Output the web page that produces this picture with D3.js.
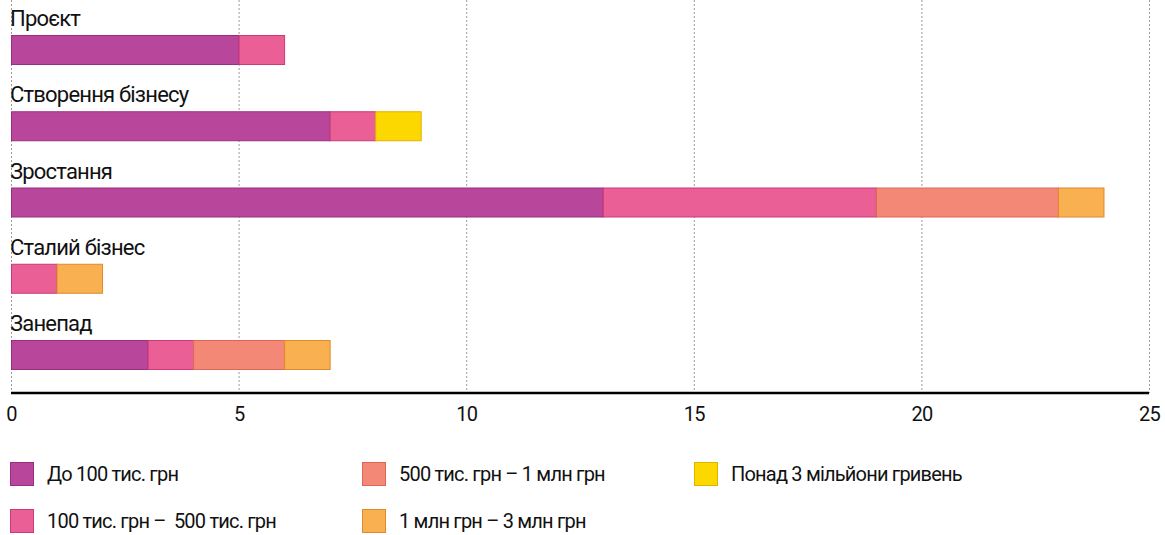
<!DOCTYPE html>
<html>
<head>
<meta charset="utf-8">
<script src="https://cdn.jsdelivr.net/npm/d3@7"></script>
<style>
  html, body { margin: 0; padding: 0; background: #fff; }
  svg { display: block; }
  svg text { font-family: Roboto, "DejaVu Sans", sans-serif; white-space: pre; letter-spacing: -0.8px; }
</style>
</head>
<body>
<svg id="chart" width="1165" height="535"></svg>
<script>
// Business stages and counts per turnover bracket
const stages = ["Проєкт", "Створення бізнесу", "Зростання", "Сталий бізнес", "Занепад"];
const seriesNames = [
  "До 100 тис. грн",
  "100 тис. грн –  500 тис. грн",
  "500 тис. грн – 1 млн грн",
  "1 млн грн – 3 млн грн",
  "Понад 3 мільйони гривень"
];
const upTo100k   = [5, 7, 13, 0, 3];
const from100k   = [1, 1, 6, 1, 1];
const from500k   = [0, 0, 4, 0, 2];
const from1m     = [0, 0, 1, 1, 1];
const over3m     = [0, 1, 0, 0, 0];
const xTicks = [0, 5, 10, 15, 20, 25];

const fills   = ["#b8479c", "#ea5f96", "#f48877", "#f9b051", "#fdd800"];
const strokes = ["#9a2c83", "#cc3a78", "#de6656", "#df8a2c", "#dcb400"];

const seriesValues = [upTo100k, from100k, from500k, from1m, over3m];
const rows = stages.map((s, i) => {
  const r = { stage: s };
  seriesNames.forEach((n, k) => r[n] = seriesValues[k][i]);
  return r;
});
const stacked = d3.stack().keys(seriesNames)(rows);

const svg = d3.select("#chart");
const x = d3.scaleLinear().domain([0, 25]).range([11, 1149]);
const yTop = d3.scalePoint().domain(stages).range([35, 340]);
const barH = 29;
const axisY = 393;

// dotted gridlines
svg.append("g").selectAll("line").data(xTicks).join("line")
  .attr("x1", d => x(d) + 0.5).attr("x2", d => x(d) + 0.5)
  .attr("y1", 0).attr("y2", axisY)
  .attr("stroke", "#9a9a9a").attr("stroke-width", 1)
  .attr("stroke-dasharray", "2,2");

// stacked bars
svg.append("g").selectAll("g").data(stacked).join("g")
  .each(function(layer, k) {
    d3.select(this).selectAll("rect")
      .data(layer.filter(d => d[1] - d[0] > 0))
      .join("rect")
      .attr("x", d => x(d[0]) + 0.5)
      .attr("y", d => yTop(d.data.stage) + 0.5)
      .attr("width", d => x(d[1]) - x(d[0]))
      .attr("height", barH)
      .attr("fill", fills[k])
      .attr("stroke", strokes[k])
      .attr("stroke-width", 1);
  });

// stage labels above bars
svg.append("g").selectAll("text").data(stages).join("text")
  .attr("x", 10)
  .attr("y", d => yTop(d) - 9)
  .attr("font-size", 22)
  .attr("fill", "#111")
  .text(d => d);

// x axis
const axis = svg.append("g").attr("transform", `translate(0,${axisY})`)
  .call(d3.axisBottom(x).tickValues(xTicks).tickSize(0).tickPadding(14));
axis.select(".domain").attr("stroke", "#000").attr("stroke-width", 2.5)
  .attr("d", `M${x(0)},0H${x(25)}`);
axis.selectAll("text").attr("font-size", 20).attr("fill", "#111")
  .attr("font-family", null);

// legend
const legendCols = [10, 362, 694];
const legendRows = [462, 509];
const legend = svg.append("g").selectAll("g").data(seriesNames).join("g")
  .attr("transform", (d, i) => `translate(${legendCols[Math.floor(i / 2)]},${legendRows[i % 2]})`);
legend.append("rect")
  .attr("x", 0.5).attr("y", 0.5).attr("width", 23).attr("height", 23)
  .attr("fill", (d, i) => fills[i]).attr("stroke", (d, i) => strokes[i]);
legend.append("text")
  .attr("x", 37).attr("y", 19)
  .attr("font-size", 20).attr("fill", "#111")
  .text(d => d);
</script>
</body>
</html>
